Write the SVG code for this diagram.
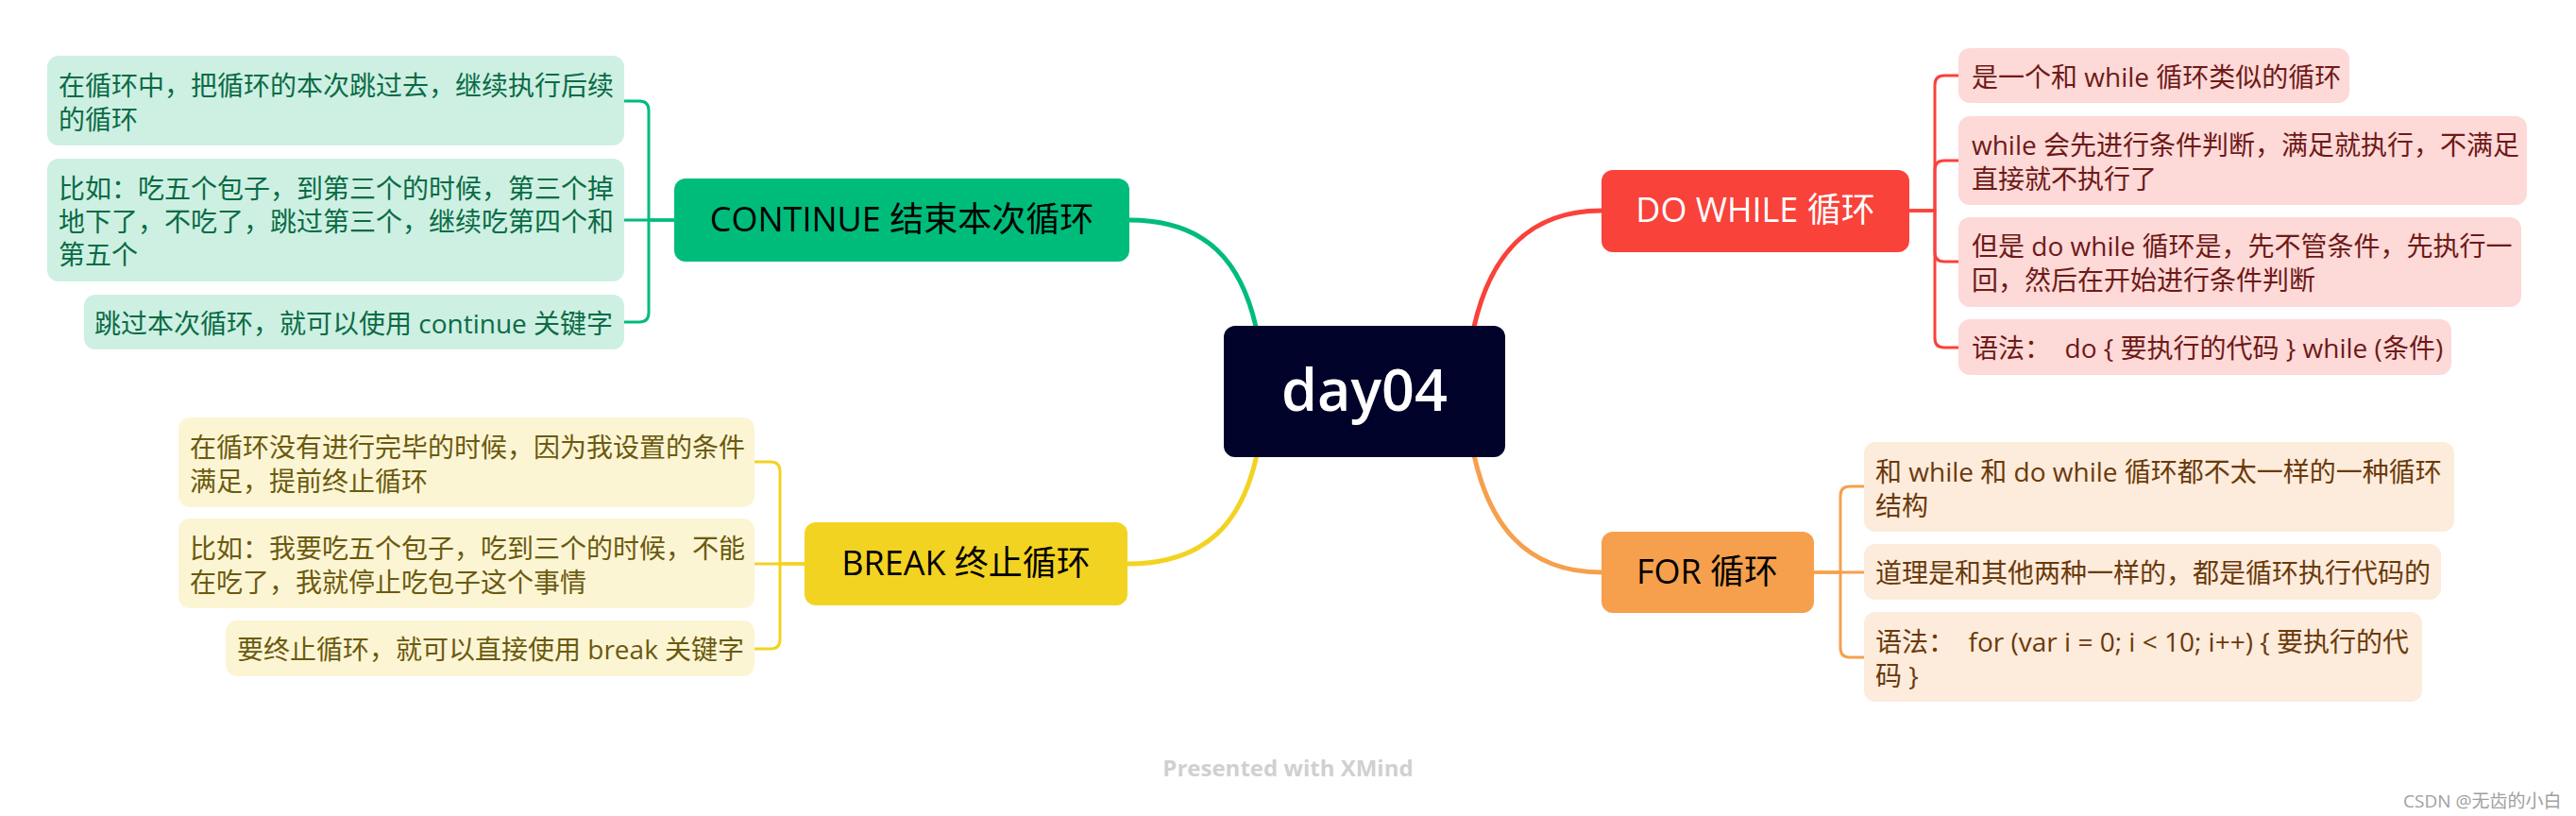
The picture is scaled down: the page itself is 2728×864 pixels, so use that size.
<svg xmlns="http://www.w3.org/2000/svg" width="2728" height="864" viewBox="0 0 2728 864">
<style>
text{font-family:"Open Sans","Noto Sans CJK SC",sans-serif;}
.sub{font-size:28px;}
.main{font-size:36px;}
.con{fill:none;stroke-linecap:round;stroke-linejoin:round;}
.g{stroke:#00BC7B}.r{stroke:#F9423A}.o{stroke:#F6A04D}.y{stroke:#F3D321}
.thick{stroke-width:5}.thin{stroke-width:3}
.gb{fill:#CDF0E3}.gt{fill:#0B6B45}
.rb{fill:#FDD9D8}.rt{fill:#6E1A17}
.ob{fill:#FDEBDC}.ot{fill:#6A3A0A}
.yb{fill:#FCF5D4}.yt{fill:#6B5A0F}
</style>
<rect width="2728" height="864" fill="#ffffff"/>
<g id="connectors">
<path class="con g thick" d="M1330,346 C1315,280 1280,233 1196,233"/>
<path class="con r thick" d="M1561,346 C1576,280 1611,223 1696,223"/>
<path class="con y thick" d="M1331,482 C1316,549 1281,597 1194,597"/>
<path class="con o thick" d="M1561,482 C1576,549 1611,606 1696,606"/>
<path class="con g thin" d="M714,233 H687 V117 Q687,107 677,107 H661"/>
<path class="con g thin" d="M714,233 H661"/>
<path class="con g thin" d="M714,233 H687 V331 Q687,341 677,341 H661"/>
<path class="con r thin" d="M2022,223 H2049 V90 Q2049,80 2059,80 H2074"/>
<path class="con r thin" d="M2022,223 H2049 V180 Q2049,170 2059,170 H2074"/>
<path class="con r thin" d="M2022,223 H2049 V267 Q2049,277 2059,277 H2074"/>
<path class="con r thin" d="M2022,223 H2049 V358 Q2049,368 2059,368 H2074"/>
<path class="con y thin" d="M852,597 H826 V499 Q826,489 816,489 H799"/>
<path class="con y thin" d="M852,597 H799"/>
<path class="con y thin" d="M852,597 H826 V677 Q826,687 816,687 H799"/>
<path class="con o thin" d="M1921,606 H1949 V525 Q1949,515 1959,515 H1974"/>
<path class="con o thin" d="M1921,606 H1974"/>
<path class="con o thin" d="M1921,606 H1949 V686 Q1949,696 1959,696 H1974"/>
</g>
<g id="central">
<rect x="1296" y="345" width="298" height="139" rx="12" fill="#00022A"/>
<text x="1445" y="435" font-size="61" font-weight="600" fill="#ffffff" text-anchor="middle">day04</text>
</g>
<g id="continue">
<rect x="714" y="189" width="482" height="88" rx="12" fill="#00BC7B"/>
<text class="main" x="955" y="245" fill="#000000" text-anchor="middle">CONTINUE 结束本次循环</text>
</g>
<g id="continue-1">
<rect class="gb" x="50" y="59" width="611" height="95" rx="12"/>
<text class="sub gt" x="62" y="101">在循环中，把循环的本次跳过去，继续执行后续</text>
<text class="sub gt" x="62" y="137">的循环</text>
</g>
<g id="continue-2">
<rect class="gb" x="50" y="168" width="611" height="130" rx="12"/>
<text class="sub gt" x="62" y="210">比如：吃五个包子，到第三个的时候，第三个掉</text>
<text class="sub gt" x="62" y="245">地下了，不吃了，跳过第三个，继续吃第四个和</text>
<text class="sub gt" x="62" y="280">第五个</text>
</g>
<g id="continue-3">
<rect class="gb" x="89" y="312" width="572" height="58" rx="12"/>
<text class="sub gt" x="100" y="353">跳过本次循环，就可以使用 continue 关键字</text>
</g>
<g id="dowhile">
<rect x="1696" y="180" width="326" height="87" rx="12" fill="#F9423A"/>
<text class="main" x="1859" y="235" fill="#ffffff" text-anchor="middle">DO WHILE 循环</text>
</g>
<g id="dowhile-1">
<rect class="rb" x="2074" y="51" width="414" height="58" rx="12"/>
<text class="sub rt" x="2088" y="92">是一个和 while 循环类似的循环</text>
</g>
<g id="dowhile-2">
<rect class="rb" x="2074" y="123" width="602" height="94" rx="12"/>
<text class="sub rt" x="2088" y="164">while 会先进行条件判断，满足就执行，不满足</text>
<text class="sub rt" x="2088" y="200">直接就不执行了</text>
</g>
<g id="dowhile-3">
<rect class="rb" x="2074" y="230" width="596" height="95" rx="12"/>
<text class="sub rt" x="2088" y="271">但是 do while 循环是，先不管条件，先执行一</text>
<text class="sub rt" x="2088" y="307">回，然后在开始进行条件判断</text>
</g>
<g id="dowhile-4">
<rect class="rb" x="2074" y="338" width="522" height="59" rx="12"/>
<text class="sub rt" x="2088" y="379" xml:space="preserve">语法：  do { 要执行的代码 } while (条件)</text>
</g>
<g id="break">
<rect x="852" y="553" width="342" height="88" rx="12" fill="#F3D321"/>
<text class="main" x="1023" y="609" fill="#000000" text-anchor="middle">BREAK 终止循环</text>
</g>
<g id="break-1">
<rect class="yb" x="189" y="442" width="610" height="95" rx="12"/>
<text class="sub yt" x="201" y="484">在循环没有进行完毕的时候，因为我设置的条件</text>
<text class="sub yt" x="201" y="520">满足，提前终止循环</text>
</g>
<g id="break-2">
<rect class="yb" x="189" y="549" width="610" height="95" rx="12"/>
<text class="sub yt" x="201" y="591">比如：我要吃五个包子，吃到三个的时候，不能</text>
<text class="sub yt" x="201" y="627">在吃了，我就停止吃包子这个事情</text>
</g>
<g id="break-3">
<rect class="yb" x="239" y="657" width="560" height="59" rx="12"/>
<text class="sub yt" x="251" y="698">要终止循环，就可以直接使用 break 关键字</text>
</g>
<g id="for">
<rect x="1696" y="563" width="225" height="86" rx="12" fill="#F6A04D"/>
<text class="main" x="1808" y="618" fill="#000000" text-anchor="middle">FOR 循环</text>
</g>
<g id="for-1">
<rect class="ob" x="1974" y="468" width="625" height="95" rx="12"/>
<text class="sub ot" x="1986" y="510">和 while 和 do while 循环都不太一样的一种循环</text>
<text class="sub ot" x="1986" y="546">结构</text>
</g>
<g id="for-2">
<rect class="ob" x="1974" y="576" width="611" height="59" rx="12"/>
<text class="sub ot" x="1986" y="617">道理是和其他两种一样的，都是循环执行代码的</text>
</g>
<g id="for-3">
<rect class="ob" x="1974" y="648" width="591" height="95" rx="12"/>
<text class="sub ot" x="1986" y="690" xml:space="preserve">语法：  for (var i = 0; i &lt; 10; i++) { 要执行的代</text>
<text class="sub ot" x="1986" y="726">码 }</text>
</g>
<text x="1364" y="822" font-size="24" font-weight="bold" fill="#D0D0D0" text-anchor="middle">Presented with XMind</text>
<text x="2545" y="855" font-size="19" fill="#A0A0A0">CSDN @无齿的小白</text>
</svg>
